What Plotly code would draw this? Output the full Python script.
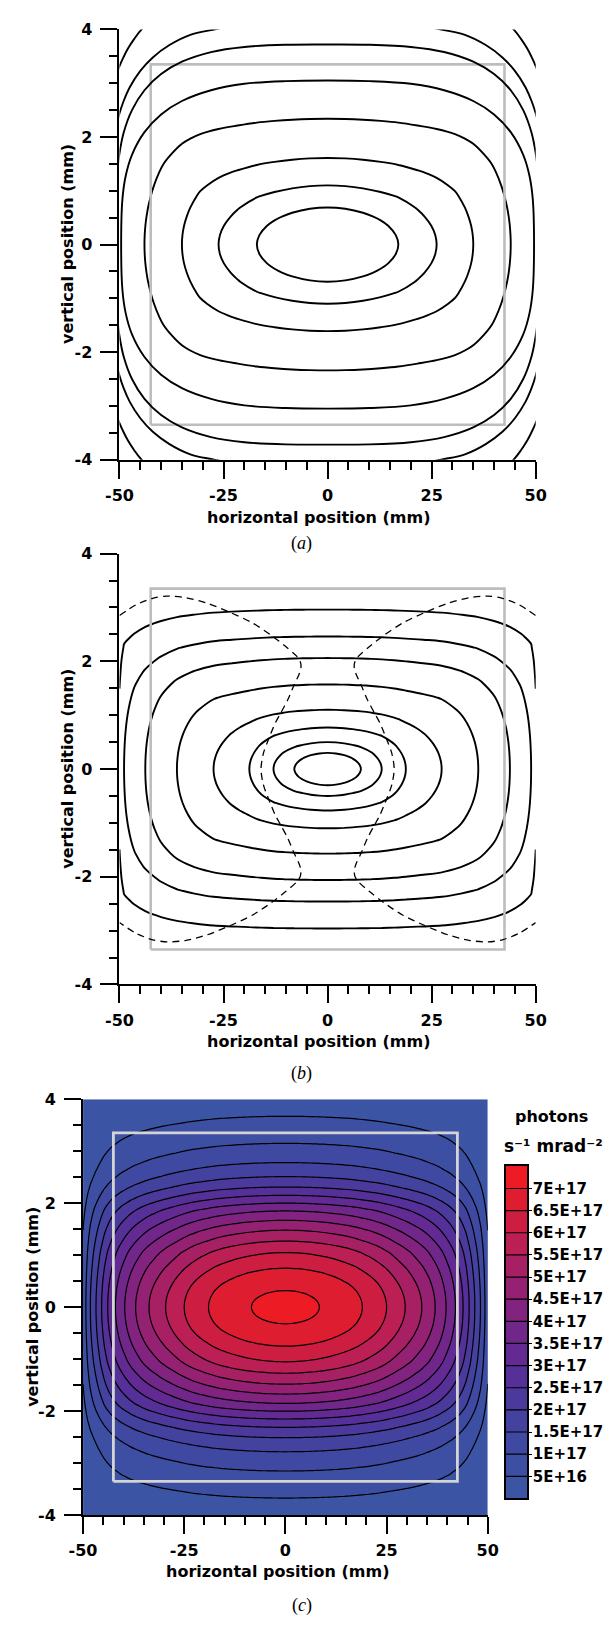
import numpy as np
import plotly.graph_objects as go

W, H = 610, 1629

# ---------------- Panel (a) ----------------
# inner contours: attenuation exponent along the horizontal cut (y = 0) and vertical cut (x = 0)
a_x_mm = [0, 4.25, 8.5, 12.75, 17.0, 21.6, 26.2, 30.6, 35.0, 39.5, 44.0, 47.0, 49.6, 50.0]
a_x_att = [0.0, 0.0306, 0.1225, 0.2756, 0.490, 0.86, 1.3015, 1.95, 3.012, 4.8, 7.349, 10.5,
           14.71, 22.62]
a_y_mm = [0, 0.175, 0.35, 0.52, 0.69, 0.90, 1.10, 1.35, 1.61, 1.97, 2.34, 2.70, 3.05, 3.40, 3.72,
          4.0]
a_y_att = [0.0, 0.0309, 0.1234, 0.2783, 0.490, 0.851, 1.3015, 2.03, 3.012, 4.822, 7.349, 10.61,
           14.71, 19.91, 25.81, 29.05]
a_levels = [0.490, 1.3015, 3.012, 7.349]

# outer contours of (a), points read in the upper-left quarter (x, y in mm)
a_c5_x = [0, -10, -20, -28, -35, -40, -44, -47, -48.5, -49.3, -49.6]
a_c5_y = [3.05, 3.04, 2.99, 2.87, 2.67, 2.42, 2.09, 1.67, 1.28, 0.84, 0.0]
a_c6_x = [0, -10, -20, -28, -35, -40, -44, -47, -49, -50, -50.6, -51.5]
a_c6_y = [3.72, 3.715, 3.675, 3.58, 3.40, 3.17, 2.87, 2.50, 2.08, 1.70, 1.30, 0.0]
a_c7_x = [-20, -27.3, -33, -38, -42, -45, -47.5, -49, -50, -51]
a_c7_y = [4.11, 4.0, 3.90, 3.71, 3.48, 3.23, 2.93, 2.67, 2.44, 2.13]
a_c8_x = [-40, -44.7, -46.5, -48, -49, -50, -51]
a_c8_y = [4.34, 4.0, 3.82, 3.64, 3.49, 3.32, 3.11]

# ---------------- Panel (b) ----------------
b_x_mm = [0, 2.0, 4.0, 6.0, 8.0, 10.5, 13.0, 16.0, 18.8, 23.0, 27.4, 32.0, 36.2, 40.0, 43.8,
          46.5, 48.9, 49.5, 50.0]
b_x_att = [0.0, 0.0058, 0.023, 0.052, 0.092, 0.165, 0.2656, 0.45, 0.6807, 1.07, 1.576, 2.65,
           3.983, 6.0, 8.746, 11.6, 15.21, 19.5, 24.43]
b_y_mm = [0, 0.075, 0.15, 0.225, 0.30, 0.40, 0.50, 0.63, 0.77, 0.93, 1.10, 1.33, 1.57, 1.80,
          2.06, 2.26, 2.46, 2.70, 2.96, 3.30, 3.70, 4.0]
b_y_att = [0.0, 0.0057, 0.0226, 0.0518, 0.092, 0.1664, 0.2656, 0.436, 0.6807, 1.052, 1.576,
           2.551, 3.983, 5.864, 8.746, 11.63, 15.21, 20.58, 27.95, 40.54, 60.54, 80.0]
b_levels = [0.092, 0.2656, 0.6807, 1.576, 3.983, 8.746, 15.21, 27.95]

# dashed curve, left branch (upper half, from the left edge to the mid-plane)
b_dash_x = [-50, -46, -42, -38.5, -34, -29, -23.5, -18, -13.5, -10, -7.5, -6.6, -6.4, -6.9,
            -8.0, -9.6, -11.2, -12.6, -14.2, -15.4, -16.0]
b_dash_y = [2.85, 3.05, 3.17, 3.21, 3.18, 3.08, 2.91, 2.71, 2.48, 2.27, 2.10, 2.00, 1.88, 1.75,
            1.57, 1.28, 1.05, 0.85, 0.55, 0.30, 0.0]

# ---------------- Panel (c) : flux density cuts (units of 1E17 photons s-1 mrad-2) ----------------
c_x_mm = [0, 1.5, 3, 4.5, 6, 7.2, 8.4, 10, 11.5, 13, 14.5, 16, 17.5, 19, 20.5, 22, 23.5, 25,
          26.5, 28, 29.6, 31, 32.4, 33.7, 35.35, 37, 38.35, 39.7, 40.85, 42, 42.95, 43.9, 44.65,
          45.4, 46.1, 46.8, 47.5, 48.2, 48.75, 49.3, 49.65, 50]
c_x_flux = [7.117, 7.113, 7.102, 7.084, 7.057, 7.031, 7.000, 6.952, 6.898, 6.837, 6.769, 6.694,
            6.605, 6.500, 6.395, 6.280, 6.150, 6.000, 5.841, 5.676, 5.500, 5.335, 5.163, 5.000,
            4.761, 4.500, 4.264, 4.000, 3.764, 3.500, 3.267, 3.000, 2.768, 2.500, 2.250, 2.000,
            1.750, 1.500, 1.264, 1.000, 0.853, 0.710]
c_y_mm = [0, 0.08, 0.16, 0.24, 0.32, 0.43, 0.54, 0.645, 0.75, 0.85, 0.95, 1.05, 1.16, 1.27,
          1.375, 1.48, 1.575, 1.67, 1.76, 1.85, 1.925, 2.0, 2.075, 2.15, 2.23, 2.31, 2.41, 2.51,
          2.645, 2.78, 2.965, 3.15, 3.28, 3.41, 3.54, 3.67, 3.835, 4.0]
c_y_flux = [7.117, 7.110, 7.088, 7.051, 7.000, 6.906, 6.785, 6.650, 6.500, 6.335, 6.170, 6.000,
            5.758, 5.500, 5.255, 5.000, 4.753, 4.500, 4.252, 4.000, 3.759, 3.500, 3.250, 3.000,
            2.742, 2.500, 2.235, 2.000, 1.731, 1.500, 1.230, 1.000, 0.860, 0.721, 0.600, 0.500,
            0.390, 0.300]
c_flux_unit = 1e17
c_level_start, c_level_end, c_level_step = 0.5e17, 7.0e17, 0.5e17
c_bar_range = [0.0, 7.5e17]
c_tick_vals = [0.5e17, 1.0e17, 1.5e17, 2.0e17, 2.5e17, 3.0e17, 3.5e17, 4.0e17, 4.5e17, 5.0e17,
               5.5e17, 6.0e17, 6.5e17, 7.0e17]
c_tick_text = ["5E+16", "1E+17", "1.5E+17", "2E+17", "2.5E+17", "3E+17", "3.5E+17", "4E+17",
               "4.5E+17", "5E+17", "5.5E+17", "6E+17", "6.5E+17", "7E+17"]
c_band_colors = ["rgb(59,84,164)", "rgb(61,79,163)", "rgb(63,73,161)", "rgb(67,66,159)",
                 "rgb(75,57,156)", "rgb(85,48,152)", "rgb(98,42,146)", "rgb(113,38,138)",
                 "rgb(130,35,128)", "rgb(149,33,115)", "rgb(168,32,100)", "rgb(188,31,84)",
                 "rgb(205,30,66)", "rgb(222,29,49)", "rgb(237,28,36)"]

# aperture (mm)
aperture_half_w = 42.5
aperture_half_h = 3.35

# axis ticks
x_tick_vals = [-50, -25, 0, 25, 50]
x_tick_text = ["-50", "-25", "0", "25", "50"]
y_tick_vals = [-4, -2, 0, 2, 4]
y_tick_text = ["-4", "-2", "0", "2", "4"]


def mirror(pos, val):
    p = np.asarray(pos, float)
    v = np.asarray(val, float)
    return np.concatenate([-p[:0:-1], p]), np.concatenate([v[:0:-1], v])


def closed_loop(qx, qy):
    """quarter (x<=0, y>=0, from the top crossing to the side) -> full closed loop"""
    qx, qy = list(qx), list(qy)
    xs = qx + qx[-2::-1] + [-v for v in qx[1:]] + [-v for v in qx[-2::-1]]
    ys = qy + [-v for v in qy[-2::-1]] + [-v for v in qy[1:]] + qy[-2::-1]
    return xs, ys


fig = go.Figure()


def px_dom_x(a, b):
    return [a / W, b / W]


def px_dom_y(top, bottom):
    return [1 - bottom / H, 1 - top / H]


panels = {
    "a": dict(x=px_dom_x(110, 544), y=px_dom_y(20.7, 456), xa="x", ya="y"),
    "b": dict(x=px_dom_x(110, 544), y=px_dom_y(551, 987), xa="x2", ya="y2"),
    "c": dict(x=px_dom_x(72, 494), y=px_dom_y(1103, 1524), xa="x3", ya="y3"),
}

ap_x = [-aperture_half_w, aperture_half_w, aperture_half_w, -aperture_half_w, -aperture_half_w]
ap_y = [-aperture_half_h, -aperture_half_h, aperture_half_h, aperture_half_h, -aperture_half_h]

LINE_W = 1.9

# ---- panel (a) ----
ax_full, axv = mirror(a_x_mm, a_x_att)
ay_full, ayv = mirror(a_y_mm, a_y_att)
za = ayv[:, None] + axv[None, :]
fig.add_trace(go.Scatter(x=ap_x, y=ap_y, mode="lines", line=dict(color="rgb(186,190,192)", width=2.6),
                         xaxis="x", yaxis="y", hoverinfo="skip", showlegend=False))
for L in a_levels:
    fig.add_trace(go.Contour(x=ax_full, y=ay_full, z=za, autocontour=False,
                             contours=dict(start=L, end=L, size=1, coloring="none"),
                             line=dict(color="black", width=LINE_W, smoothing=1.0),
                             showscale=False, hoverinfo="skip", xaxis="x", yaxis="y"))
for qx, qy in ((a_c5_x, a_c5_y), (a_c6_x, a_c6_y)):
    lx, ly = closed_loop(qx, qy)
    fig.add_trace(go.Scatter(x=lx, y=ly, mode="lines",
                             line=dict(color="black", width=LINE_W, shape="spline", smoothing=1.0),
                             xaxis="x", yaxis="y", hoverinfo="skip", showlegend=False))
for qx, qy in ((a_c7_x, a_c7_y), (a_c8_x, a_c8_y)):
    for sx in (1, -1):
        for sy in (1, -1):
            fig.add_trace(go.Scatter(x=[sx * v for v in qx], y=[sy * v for v in qy], mode="lines",
                                     line=dict(color="black", width=LINE_W, shape="spline",
                                               smoothing=1.0),
                                     xaxis="x", yaxis="y", hoverinfo="skip", showlegend=False))

# ---- panel (b) ----
bx_full, bxv = mirror(b_x_mm, b_x_att)
by_full, byv = mirror(b_y_mm, b_y_att)
zb = byv[:, None] + bxv[None, :]
fig.add_trace(go.Scatter(x=ap_x, y=ap_y, mode="lines", line=dict(color="rgb(186,190,192)", width=2.6),
                         xaxis="x2", yaxis="y2", hoverinfo="skip", showlegend=False))
for L in b_levels:
    fig.add_trace(go.Contour(x=bx_full, y=by_full, z=zb, autocontour=False,
                             contours=dict(start=L, end=L, size=1, coloring="none"),
                             line=dict(color="black", width=LINE_W, smoothing=1.0),
                             showscale=False, hoverinfo="skip", xaxis="x2", yaxis="y2"))
dxl = list(b_dash_x) + list(b_dash_x[-2::-1])
dyl = list(b_dash_y) + [-v for v in b_dash_y[-2::-1]]
for sgn in (1, -1):
    fig.add_trace(go.Scatter(x=[sgn * v for v in dxl], y=dyl, mode="lines",
                             line=dict(color="black", width=1.3, dash="7px,5px", shape="spline",
                                       smoothing=0.8),
                             xaxis="x2", yaxis="y2", hoverinfo="skip", showlegend=False))

# ---- panel (c) ----
cx_full, cxv = mirror(c_x_mm, c_x_flux)
cy_full, cyv = mirror(c_y_mm, c_y_flux)
peak = c_x_flux[0]
zc = (cyv[:, None] * cxv[None, :] / peak) * c_flux_unit
n_b = len(c_band_colors)
cscale = [[i / (n_b - 1), c] for i, c in enumerate(c_band_colors)]
cont_c = dict(start=c_level_start, end=c_level_end, size=c_level_step, coloring="fill")
fig.add_trace(go.Contour(x=cx_full, y=cy_full, z=zc, autocontour=False, contours=cont_c,
                         colorscale=cscale, line=dict(color="black", width=1.2, smoothing=1.0),
                         showscale=False, hoverinfo="skip", xaxis="x3", yaxis="y3"))
fig.add_trace(go.Scatter(x=ap_x, y=ap_y, mode="lines", line=dict(color="rgb(212,212,214)", width=2.8),
                         xaxis="x3", yaxis="y3", hoverinfo="skip", showlegend=False))

# colour bar drawn as its own small contour subplot
fig.add_trace(go.Contour(x=[0, 1], y=c_bar_range, z=[[c_bar_range[0]] * 2, [c_bar_range[1]] * 2],
                         autocontour=False, contours=cont_c, colorscale=cscale,
                         line=dict(color="black", width=1.2, smoothing=0),
                         showscale=False, hoverinfo="skip", xaxis="x4", yaxis="y4"))

tick_font = dict(family="DejaVu Sans", size=16, color="black", weight="bold")
ax_common = dict(showline=True, linecolor="black", linewidth=2, ticks="outside", tickwidth=2,
                 tickcolor="black", ticklen=17, showgrid=False, zeroline=False, tickfont=tick_font,
                 fixedrange=True)

layout = dict(width=W, height=H, margin=dict(l=0, r=0, t=0, b=0), autosize=False,
              paper_bgcolor="white", plot_bgcolor="white", showlegend=False)

for key, p in panels.items():
    xn = "xaxis" if p["xa"] == "x" else "xaxis" + p["xa"][1:]
    yn = "yaxis" if p["ya"] == "y" else "yaxis" + p["ya"][1:]
    layout[xn] = dict(ax_common, domain=p["x"], range=[-50, 50], anchor=p["ya"],
                      tickmode="array", tickvals=x_tick_vals, ticktext=x_tick_text,
                      ticklabelstandoff=3,
                      minor=dict(tick0=-50, dtick=5, ticklen=8, tickwidth=2, tickcolor="black",
                                 ticks="outside", showgrid=False))
    layout[yn] = dict(ax_common, domain=p["y"], range=[-4, 4], anchor=p["xa"],
                      tickmode="array", tickvals=y_tick_vals, ticktext=y_tick_text,
                      ticklabelstandoff=5,
                      minor=dict(tick0=-4, dtick=0.5, ticklen=8, tickwidth=2, tickcolor="black",
                                 ticks="outside", showgrid=False))

layout["xaxis4"] = dict(domain=px_dom_x(513, 535), range=[0, 1], anchor="y4", showline=True,
                        mirror=True, linecolor="black", linewidth=1.6, ticks="", showticklabels=False,
                        showgrid=False, zeroline=False, fixedrange=True)
layout["yaxis4"] = dict(domain=px_dom_y(1171, 1507), range=c_bar_range, anchor="x4", side="right",
                        showline=True, mirror=True, linecolor="black", linewidth=1.6, ticks="outside",
                        ticklen=3, tickwidth=1.2, tickcolor="black", tickmode="array",
                        tickvals=c_tick_vals, ticktext=c_tick_text, showgrid=False, zeroline=False,
                        ticklabelstandoff=-2,
                        tickfont=dict(family="DejaVu Sans", size=15, color="black", weight="bold"),
                        fixedrange=True)

title_font = dict(family="DejaVu Sans", size=16, color="black", weight="bold")
cap_font = dict(family="Liberation Serif", size=18, color="black")


def ann(text, xpx, ypx, font, angle=0):
    return dict(text=text, x=xpx / W, y=1 - ypx / H, xref="paper", yref="paper", showarrow=False,
                xanchor="center", yanchor="middle", font=font, textangle=angle)


annotations = [
    ann("vertical position (mm)", 55, 238, title_font, -90),
    ann("vertical position (mm)", 55, 769, title_font, -90),
    ann("vertical position (mm)", 20, 1313, title_font, -90),
    ann("horizontal position (mm)", 318, 514, title_font),
    ann("horizontal position (mm)", 318, 1045, title_font),
    ann("horizontal position (mm)", 275, 1581, title_font),
    ann("(<i>a</i>)", 300, 541, cap_font),
    ann("(<i>b</i>)", 300, 1077, cap_font),
    ann("(<i>c</i>)", 300, 1615, cap_font),
    ann("photons", 560, 1121, dict(family="DejaVu Sans", size=16, color="black", weight="bold")),
    ann("s\u207b\u00b9 mrad\u207b\u00b2", 563, 1150,
        dict(family="DejaVu Sans", size=17, color="black", weight="bold")),
]
layout["annotations"] = annotations

fig.update_layout(**layout)
fig.write_html("out.html")
